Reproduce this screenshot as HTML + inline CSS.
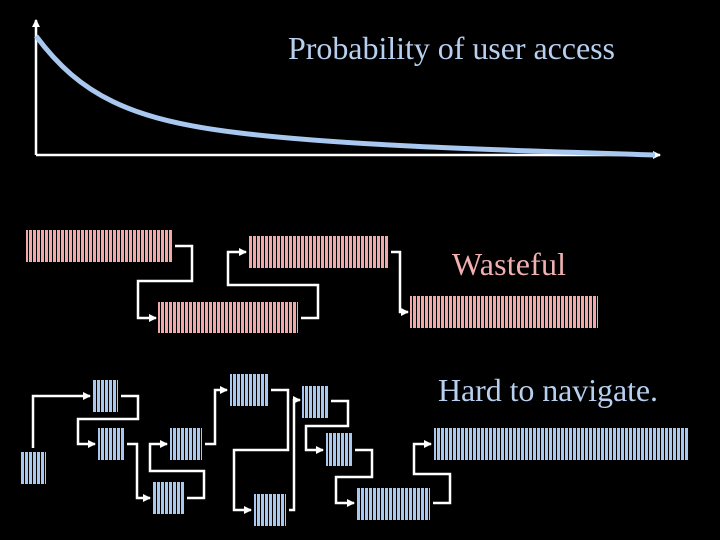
<!DOCTYPE html>
<html><head><meta charset="utf-8"><style>
html,body{margin:0;padding:0;background:#000;}
svg{display:block}
text{font-family:"Liberation Serif",serif;}
</style></head><body>
<svg width="720" height="540" viewBox="0 0 720 540" xmlns="http://www.w3.org/2000/svg">
<defs>
<pattern id="pk" width="4" height="10" patternUnits="userSpaceOnUse"><rect width="4" height="10" fill="#000"/><rect x="1" width="3" height="10" fill="#f0a8a8"/></pattern>
<pattern id="bl" width="4" height="10" patternUnits="userSpaceOnUse"><rect width="4" height="10" fill="#000"/><rect x="1" width="3" height="10" fill="#a8c8f0"/></pattern>
<marker id="ar" markerWidth="8" markerHeight="8" refX="7" refY="4" orient="auto" markerUnits="userSpaceOnUse"><path d="M0,0 L8,4 L0,8 z" fill="#fff"/></marker>
</defs>
<rect width="720" height="540" fill="#000"/>
<g stroke="#fff" stroke-width="2.5" fill="none">
<path d="M36,155 V20" marker-end="url(#ar)"/>
<path d="M36,155 H660" marker-end="url(#ar)"/>
</g>
<path d="M36,36 C80,95 130,120 240,133 S500,150 655,155" stroke="#a8c8f0" stroke-width="5" fill="none"/>
<text x="288" y="59" font-size="32" textLength="327" fill="#b8d0f0">Probability of user access</text>
<text x="452" y="275" font-size="32" textLength="114" fill="#f0b0b0">Wasteful</text>
<text x="438" y="401" font-size="32" textLength="220" fill="#b8d0f0">Hard to navigate.</text>
<rect x="26" y="230" width="146" height="32" fill="url(#pk)"/>
<rect x="158" y="302" width="140" height="31" fill="url(#pk)"/>
<rect x="249" y="236" width="139" height="32" fill="url(#pk)"/>
<rect x="410" y="296" width="188" height="32" fill="url(#pk)"/>
<rect x="20" y="452" width="26" height="32" fill="url(#bl)"/>
<rect x="93" y="380" width="25" height="32" fill="url(#bl)"/>
<rect x="98" y="428" width="26" height="32" fill="url(#bl)"/>
<rect x="170" y="428" width="32" height="32" fill="url(#bl)"/>
<rect x="153" y="482" width="31" height="32" fill="url(#bl)"/>
<rect x="230" y="374" width="38" height="32" fill="url(#bl)"/>
<rect x="254" y="494" width="32" height="32" fill="url(#bl)"/>
<rect x="302" y="386" width="26" height="32" fill="url(#bl)"/>
<rect x="326" y="433" width="26" height="33" fill="url(#bl)"/>
<rect x="357" y="488" width="73" height="32" fill="url(#bl)"/>
<rect x="434" y="428" width="254" height="32" fill="url(#bl)"/>
<g stroke="#fff" stroke-width="2.5" fill="none" marker-end="url(#ar)">
<path d="M175,246 H192 V281 H138 V318 H156"/>
<path d="M301,318 H318 V285 H228 V252 H246"/>
<path d="M391,252 H400 V312 H408"/>
<path d="M33,448 V396 H90"/>
<path d="M121,396 H138 V419 H78 V444 H95"/>
<path d="M127,444 H137 V498 H150"/>
<path d="M187,498 H204 V471 H150 V444 H167"/>
<path d="M205,444 H215 V390 H227"/>
<path d="M271,390 H288 V450 H234 V510 H251"/>
<path d="M289,510 H294 V400 H300"/>
<path d="M331,401 H348 V426 H306 V450 H323"/>
<path d="M355,450 H372 V477 H336 V503 H354"/>
<path d="M433,503 H450 V474 H414 V444 H431"/>
</g>
</svg>
</body></html>
